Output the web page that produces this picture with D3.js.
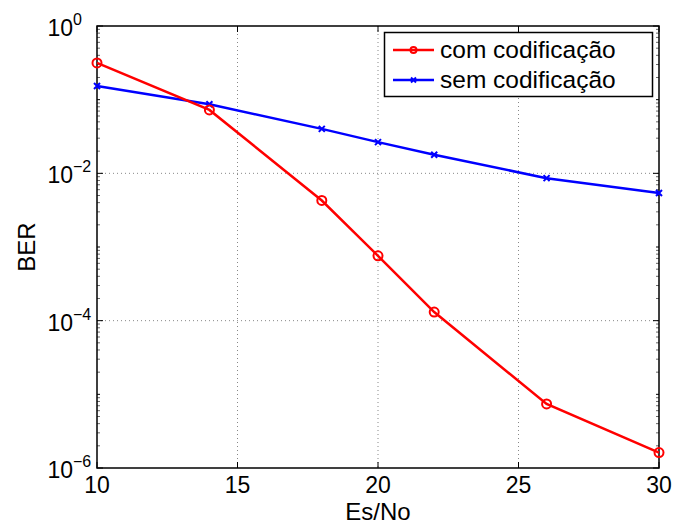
<!DOCTYPE html>
<html><head><meta charset="utf-8">
<script src="https://cdn.jsdelivr.net/npm/d3@7"></script>
<style>body{margin:0;background:#fff;} svg{display:block;}</style>
</head><body>
<svg id="chart" width="687" height="525"></svg>
<script>
const snr = [10, 14, 18, 20, 22, 26, 30];
const berCoded = [0.315, 0.0726, 0.00428, 0.00076, 0.000131, 0.0000074, 0.00000162];
const berUncoded = [0.1536, 0.0867, 0.0401, 0.0265, 0.0179, 0.0086, 0.0054];
const seriesNames = ["com codificação", "sem codificação"];
const xTicks = [10, 15, 20, 25, 30];
const yTickExps = [0, -2, -4, -6];

const svg = d3.select("#chart");
const L = 97, R = 659, T = 26, B = 468;
const font = "'Liberation Sans', Arial, Helvetica, sans-serif";
const x = d3.scaleLinear().domain([10, 30]).range([L, R]);
const y = d3.scaleLog().domain([1e-6, 1]).range([B, T]);

// grid
const g = svg.append("g");
xTicks.slice(1, -1).forEach(v => {
  g.append("line").attr("x1", x(v)).attr("x2", x(v)).attr("y1", T).attr("y2", B)
    .attr("stroke", "#888").attr("stroke-width", 1).attr("stroke-dasharray", "1,3");
});
yTickExps.slice(1, -1).forEach(e => {
  g.append("line").attr("x1", L).attr("x2", R).attr("y1", y(Math.pow(10, e))).attr("y2", y(Math.pow(10, e)))
    .attr("stroke", "#888").attr("stroke-width", 1).attr("stroke-dasharray", "1,3");
});

// ticks
const tk = svg.append("g").attr("stroke", "#000").attr("stroke-width", 1);
xTicks.forEach(v => {
  tk.append("line").attr("x1", x(v)).attr("x2", x(v)).attr("y1", B).attr("y2", B - 6);
  tk.append("line").attr("x1", x(v)).attr("x2", x(v)).attr("y1", T).attr("y2", T + 6);
});
for (let e = -6; e <= 0; e++) {
  const major = (e % 2 === 0);
  const yy = y(Math.pow(10, e));
  const len = major ? 6 : 3;
  tk.append("line").attr("x1", L).attr("x2", L + len).attr("y1", yy).attr("y2", yy);
  tk.append("line").attr("x1", R).attr("x2", R - len).attr("y1", yy).attr("y2", yy);
  if (e < 0) {
    for (let m = 2; m <= 9; m++) {
      const ym = y(m * Math.pow(10, e));
      tk.append("line").attr("x1", L).attr("x2", L + 3).attr("y1", ym).attr("y2", ym).attr("stroke-width", 0.6);
      tk.append("line").attr("x1", R).attr("x2", R - 3).attr("y1", ym).attr("y2", ym).attr("stroke-width", 0.6);
    }
  }
}

// box
svg.append("rect").attr("x", L).attr("y", T).attr("width", R - L).attr("height", B - T)
  .attr("fill", "none").attr("stroke", "#000").attr("stroke-width", 1.5);

// tick labels
xTicks.forEach(v => {
  svg.append("text").attr("x", x(v)).attr("y", B + 25).attr("text-anchor", "middle")
    .attr("font-family", font).attr("font-size", 23).text(v);
});
yTickExps.forEach(e => {
  const yy = y(Math.pow(10, e));
  svg.append("text").attr("x", 73).attr("y", yy + 10).attr("text-anchor", "end")
    .attr("font-family", font).attr("font-size", 23).text("10");
  svg.append("text").attr("x", 73).attr("y", yy - 1).attr("text-anchor", "start")
    .attr("font-family", font).attr("font-size", 16).text(e === 0 ? "0" : "\u2212" + Math.abs(e));
});

// axis labels
svg.append("text").attr("x", (L + R) / 2).attr("y", 520).attr("text-anchor", "middle")
  .attr("font-family", font).attr("font-size", 24).text("Es/No");
svg.append("text").attr("transform", `translate(35,${(T + B) / 2}) rotate(-90)`).attr("text-anchor", "middle")
  .attr("font-family", font).attr("font-size", 24).text("BER");

// lines
const line = d3.line().x(d => x(d[0])).y(d => y(d[1]));
const coded = snr.map((s, i) => [s, berCoded[i]]);
const uncoded = snr.map((s, i) => [s, berUncoded[i]]);

svg.append("path").datum(uncoded).attr("d", line).attr("fill", "none").attr("stroke", "#0000ff").attr("stroke-width", 2.5);
svg.append("path").datum(coded).attr("d", line).attr("fill", "none").attr("stroke", "#ff0000").attr("stroke-width", 2.5);

function xMarker(sel, cx, cy, s) {
  sel.append("path").attr("d", `M${cx - s},${cy - s}L${cx + s},${cy + s}M${cx - s},${cy + s}L${cx + s},${cy - s}`)
    .attr("stroke", "#0000ff").attr("stroke-width", 2).attr("fill", "none");
}
uncoded.forEach(d => xMarker(svg, x(d[0]), y(d[1]), 3));
coded.forEach(d => {
  svg.append("circle").attr("cx", x(d[0])).attr("cy", y(d[1])).attr("r", 4.5)
    .attr("fill", "none").attr("stroke", "#ff0000").attr("stroke-width", 2);
});

// legend
const lg = svg.append("g");
lg.append("rect").attr("x", 384.5).attr("y", 32.5).attr("width", 268).attr("height", 64)
  .attr("fill", "#fff").attr("stroke", "#000").attr("stroke-width", 1.5);
const rows = [50, 80];
lg.append("line").attr("x1", 393).attr("x2", 434).attr("y1", rows[0]).attr("y2", rows[0]).attr("stroke", "#ff0000").attr("stroke-width", 2.5);
lg.append("circle").attr("cx", 413.5).attr("cy", rows[0]).attr("r", 3).attr("fill", "none").attr("stroke", "#ff0000").attr("stroke-width", 2);
lg.append("line").attr("x1", 393).attr("x2", 434).attr("y1", rows[1]).attr("y2", rows[1]).attr("stroke", "#0000ff").attr("stroke-width", 2.5);
xMarker(lg, 413.5, rows[1], 2.5);
seriesNames.forEach((n, i) => {
  lg.append("text").attr("x", 440).attr("y", rows[i] + 8).attr("font-family", font).attr("font-size", 24.5).text(n);
});
</script>
</body></html>
